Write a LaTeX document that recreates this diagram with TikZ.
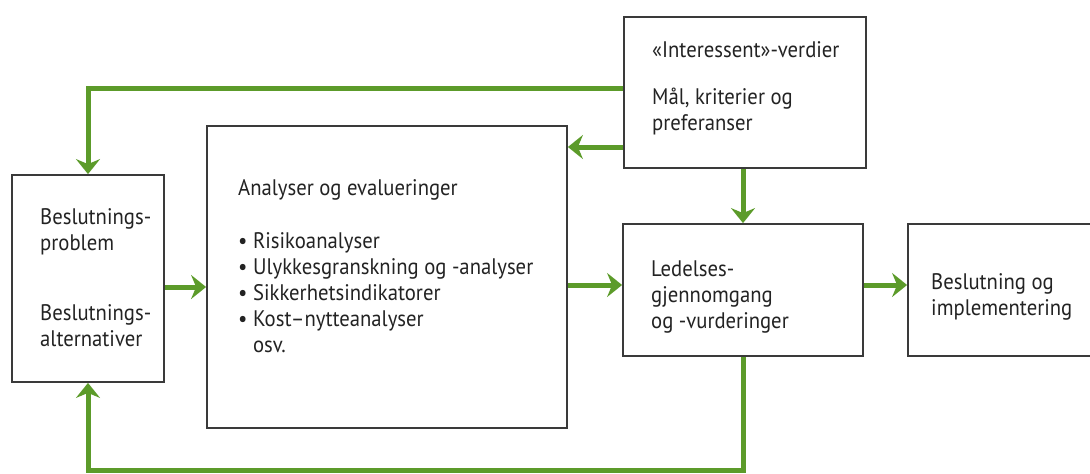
\documentclass[tikz,border=0pt]{standalone}
\usepackage{fontspec}
\setmainfont[FakeStretch=0.92]{PT Sans}
\usetikzlibrary{arrows.meta}
\definecolor{flowgreen}{RGB}{92,155,42}
\definecolor{boxline}{RGB}{58,58,58}
\definecolor{inktext}{RGB}{35,35,35}
\begin{document}
\begin{tikzpicture}[x=1pt,y=-1pt,
  box/.style={draw=boxline,line width=1.8pt,fill=white,inner sep=0pt},
  % base anchor of a multi-line label sits on its last line
  label/.style={anchor=base west,align=left,inner sep=0pt,text=inktext,
    font=\fontsize{22.5}{26}\selectfont},
  flow/.style={draw=flowgreen,line width=5pt,
    -{Stealth[length=15pt,width=24pt,inset=5pt]}}]
\useasboundingbox (0,0) rectangle (1090,474);

% boxes
\node[box,minimum width=152pt,minimum height=207pt] (prob) at (88,278.5) {};
\node[box,minimum width=360pt,minimum height=302pt] (anal) at (387,277) {};
\node[box,minimum width=242pt,minimum height=151pt] (stake) at (745,92.5) {};
\node[box,minimum width=240pt,minimum height=132pt] (mgmt) at (743,290) {};
\node[box,minimum width=187pt,minimum height=132pt] (impl) at (1001.5,290) {};

% texts
\node[label] (probtxt) at (40,346) {Beslutnings-\\problem\\[44pt]Beslutnings-\\alternativer};
\node[label] (analtxt) at (238,352.7) {Analyser og evalueringer\\[27pt]
  \textbullet\ Risikoanalyser\\
  \textbullet\ Ulykkesgranskning og -analyser\\
  \textbullet\ Sikkerhetsindikatorer\\
  \textbullet\ Kost–nytteanalyser\\
  \phantom{\textbullet\ }osv.};
\node[label] (staketxt) at (652,130) {«Interessent»-verdier\\[21pt]Mål, kriterier og\\preferanser};
\node[label] (mgmttxt) at (651,328.3) {Ledelses-\\gjennomgang\\og -vurderinger};
\node[label] (impltxt) at (931,315) {Beslutning og\\implementering};

% feedback routes
\coordinate (topturn) at (88,88);
\coordinate (botright) at (743,470);
\coordinate (botleft) at (88,470);
\draw[flow] (stake.west |- topturn) -- (topturn) -- (prob.north);
\draw[flow] (mgmt.south) -- (botright) -- (botleft) -- (prob.south);

% forward flow
\draw[flow] (stake.west |- 0,147) -- (anal.east |- 0,147);
\draw[flow] (stake.south -| mgmt.north) -- (mgmt.north);
\draw[flow] (prob.east |- 0,287) -- (anal.west |- 0,287);
\draw[flow] (anal.east |- 0,285) -- (mgmt.west |- 0,285);
\draw[flow] (mgmt.east |- 0,285) -- (impl.west |- 0,285);
\end{tikzpicture}
\end{document}
